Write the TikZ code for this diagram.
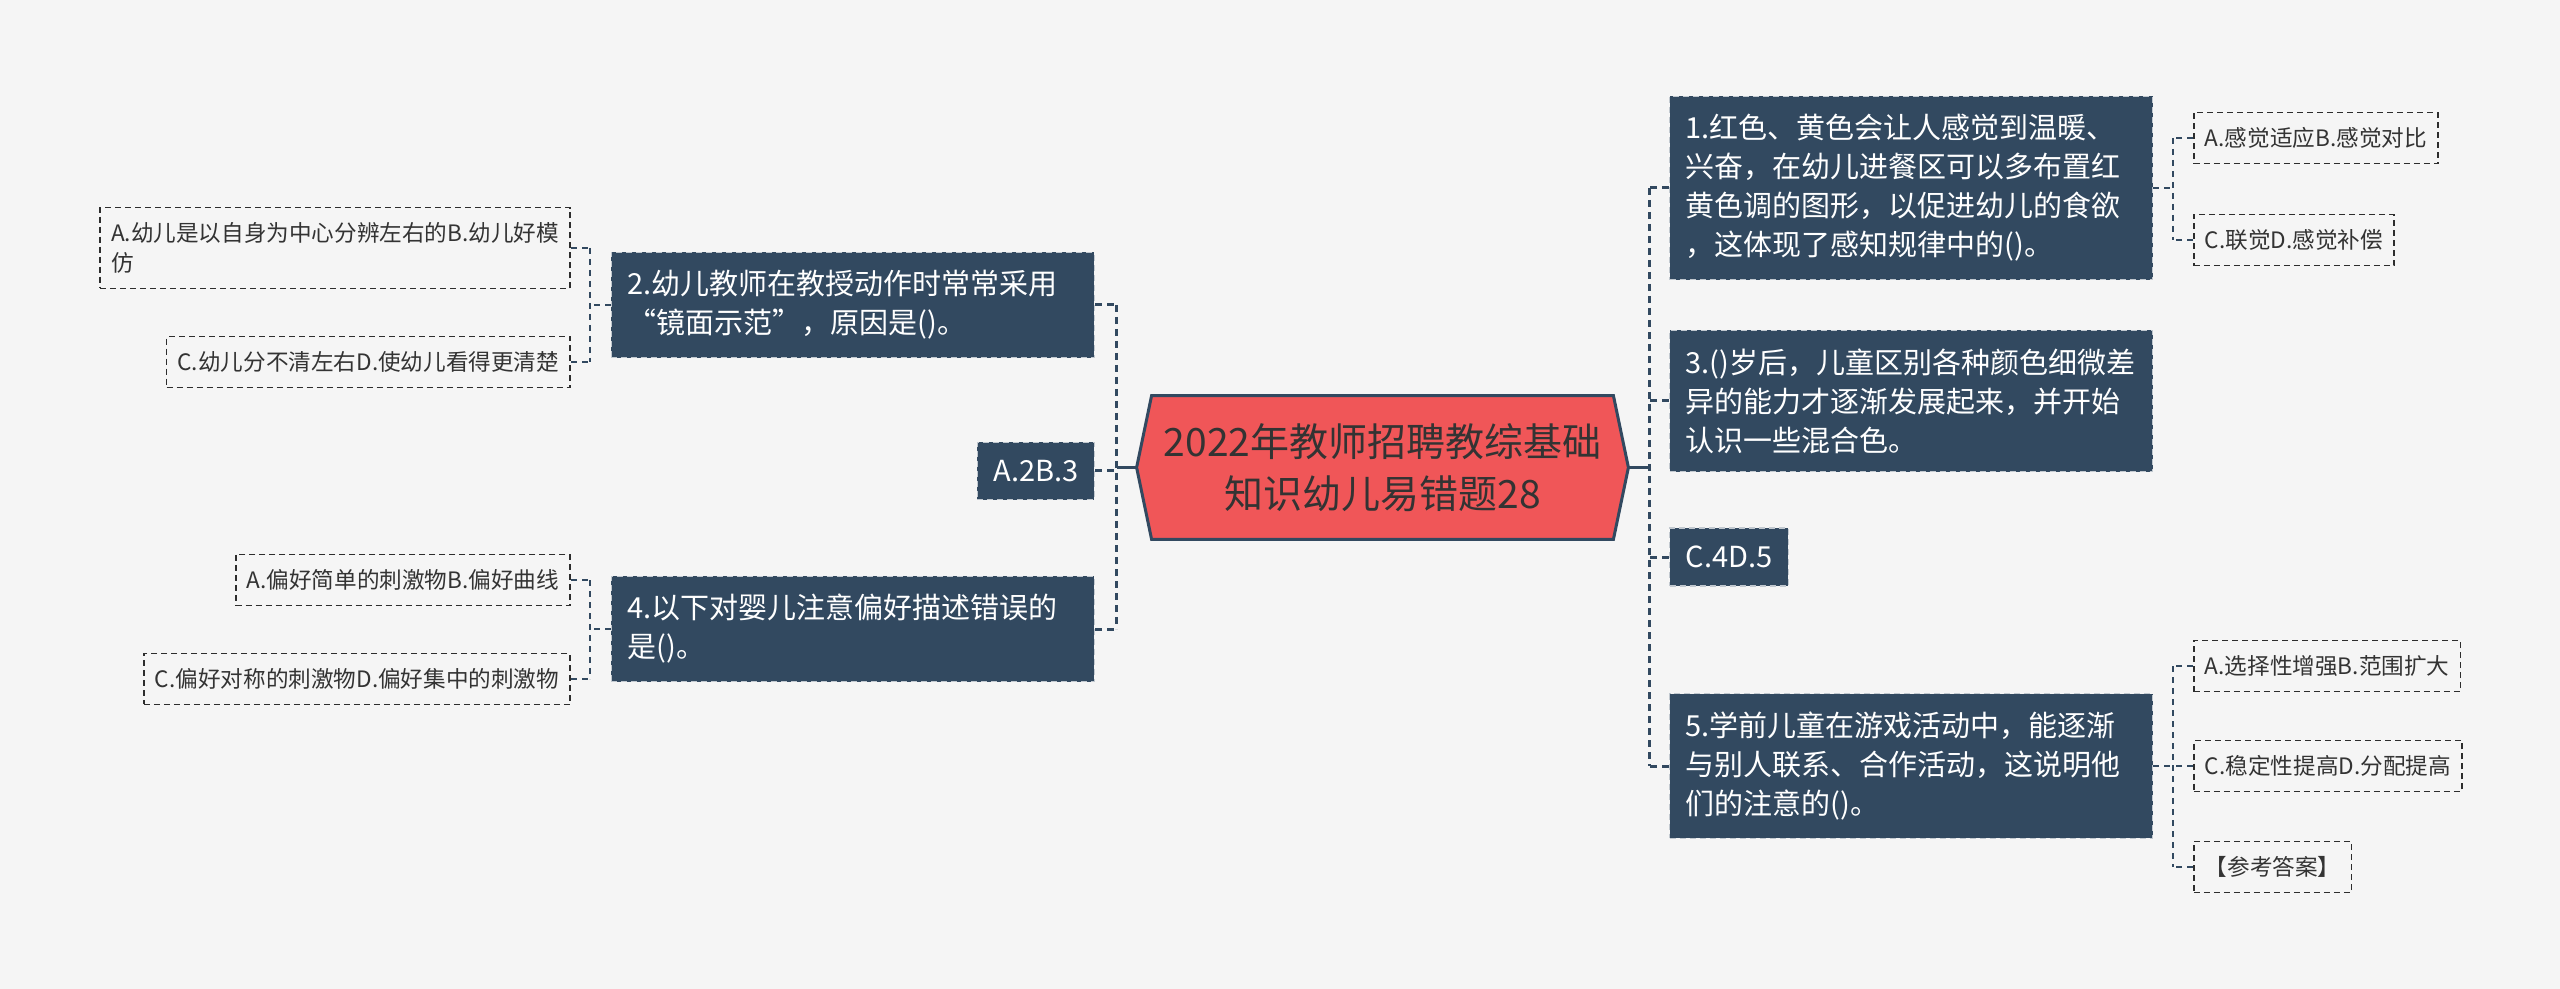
\documentclass[tikz,border=0pt]{standalone}
\usepackage{fontspec}
\setmainfont{Noto Sans CJK SC}
\usetikzlibrary{positioning,calc,backgrounds}
\definecolor{mapnavy}{RGB}{50,73,96}
\definecolor{mapred}{RGB}{240,86,88}
\definecolor{mapink}{RGB}{51,51,51}
\definecolor{mapbg}{RGB}{245,245,245}
\definecolor{mapleaf}{RGB}{45,45,45}

\begin{document}
\begin{tikzpicture}[x=0.5pt,y=-0.5pt,
            roottext/.style={font=\fontsize{19.5}{26}\selectfont,text=mapink,
                align=center,minimum width=230.5pt,minimum height=71.5pt,
                inner sep=0pt},
            topic/.style={fill=mapnavy,draw=white!70!mapnavy,line width=0.6pt,
                dash pattern=on 3pt off 2pt,text=white,align=left,
                font=\fontsize{14.5}{19.5}\selectfont,
                inner xsep=8pt,inner ysep=9pt},
            widetopic/.style={topic,text width=225.5pt},
            leaf/.style={draw=mapleaf,line width=0.9pt,dash pattern=on 3pt off 2pt,
                text=mapink,font=\fontsize{11.3}{15}\selectfont,align=left,
                inner xsep=5.5pt,inner ysep=7.5pt},
            trunk/.style={draw=mapnavy,line width=1.5pt},
            trunkdash/.style={trunk,dash pattern=on 3.5pt off 2.5pt},
            twig/.style={draw=mapnavy,line width=1pt,dash pattern=on 3pt off 2.5pt}]
        \useasboundingbox (0,0) rectangle (2560,989);
        % centre
        \node[roottext] (root) at (1382.5,467.5)
             {2022年教师招聘教综基础\\知识幼儿易错题28};
        \coordinate (rootL) at ($(root.west)+(-15,0)$);
        \coordinate (rootR) at ($(root.east)+(15,0)$);
        \begin{scope}[on background layer]
          \fill[mapbg] (0,0) rectangle (2560,989);
          \draw[fill=mapred,draw=mapnavy,line width=1.5pt]
               (root.north west) -- (root.north east) -- (rootR)
            -- (root.south east) -- (root.south west) -- (rootL) -- cycle;
        \end{scope}
        % left topics
        \node[widetopic,anchor=east] (q2) at (1095,305)
             {2.幼儿教师在教授动作时常常采用\\“镜面示范”，原因是()。};
        \node[topic,anchor=east] (ans23) at (1095,471) {A.2B.3};
        \node[widetopic,anchor=east] (q4) at (1095,629)
             {4.以下对婴儿注意偏好描述错误的\\是()。};
        % right topics
        \node[widetopic,anchor=west] (q1) at (1669,188)
             {1.红色、黄色会让人感觉到温暖、\\兴奋，在幼儿进餐区可以多布置红\\黄色调的图形，以促进幼儿的食欲\\，这体现了感知规律中的()。};
        \node[widetopic,anchor=west] (q3) at (1669,401)
             {3.()岁后，儿童区别各种颜色细微差\\异的能力才逐渐发展起来，并开始\\认识一些混合色。};
        \node[topic,anchor=west] (ans45) at (1669,557) {C.4D.5};
        \node[widetopic,anchor=west] (q5) at (1669,766)
             {5.学前儿童在游戏活动中，能逐渐\\与别人联系、合作活动，这说明他\\们的注意的()。};
        % options
        \node[leaf,anchor=east] (q2a) at (571,248)
             {A.幼儿是以自身为中心分辨左右的B.幼儿好模\\仿};
        \node[leaf,anchor=east] (q2c) at (571,362) {C.幼儿分不清左右D.使幼儿看得更清楚};
        \node[leaf,anchor=east] (q4a) at (571,580) {A.偏好简单的刺激物B.偏好曲线};
        \node[leaf,anchor=east] (q4c) at (571,679) {C.偏好对称的刺激物D.偏好集中的刺激物};
        \node[leaf,anchor=west] (q1a) at (2193,138) {A.感觉适应B.感觉对比};
        \node[leaf,anchor=west] (q1c) at (2193,240) {C.联觉D.感觉补偿};
        \node[leaf,anchor=west] (q5a) at (2193,666) {A.选择性增强B.范围扩大};
        \node[leaf,anchor=west] (q5c) at (2193,766) {C.稳定性提高D.分配提高};
        \node[leaf,anchor=west] (q5k) at (2193,867) {【参考答案】};
        % trunk links
        \coordinate (spineL) at ($(rootL)+(-20,0)$);
        \coordinate (spineR) at ($(rootR)+(21,0)$);
        \draw[trunk] (rootL) -- (spineL);
        \draw[trunk] (rootR) -- (spineR);
        \draw[trunkdash] (spineL |- q2.east) -- (spineL |- q4.east);
        \draw[trunkdash] (spineR |- q1.west) -- (spineR |- q5.west);
        \foreach \n in {q2,ans23,q4}
          \draw[trunkdash] (\n.east) -- (spineL |- \n.east);
        \foreach \n in {q1,q3,ans45,q5}
          \draw[trunkdash] (\n.west) -- (spineR |- \n.west);
        % option links
        \coordinate (q2j) at ($(q2.west)+(-21,0)$);
        \coordinate (q4j) at ($(q4.west)+(-21,0)$);
        \coordinate (q1j) at ($(q1.east)+(20,0)$);
        \coordinate (q5j) at ($(q5.east)+(20,0)$);
        \draw[twig] (q2.west) -- (q2j);
        \draw[twig] (q4.west) -- (q4j);
        \draw[twig] (q1.east) -- (q1j);
        \draw[twig] (q5.east) -- (q5j);
        \draw[twig] (q2j |- q2a.east) -- (q2j |- q2c.east);
        \draw[twig] (q4j |- q4a.east) -- (q4j |- q4c.east);
        \draw[twig] (q1j |- q1a.west) -- (q1j |- q1c.west);
        \draw[twig] (q5j |- q5a.west) -- (q5j |- q5k.west);
        \foreach \n in {q2a,q2c}
          \draw[twig] (\n.east) -- (q2j |- \n.east);
        \foreach \n in {q4a,q4c}
          \draw[twig] (\n.east) -- (q4j |- \n.east);
        \foreach \n in {q1a,q1c}
          \draw[twig] (\n.west) -- (q1j |- \n.west);
        \foreach \n in {q5a,q5c,q5k}
          \draw[twig] (\n.west) -- (q5j |- \n.west);
        \end{tikzpicture}
\end{document}
